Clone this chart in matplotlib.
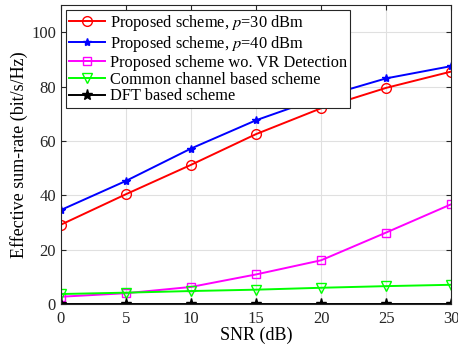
import numpy as np
from matplotlib import pyplot as plt

plt.rcParams['font.family'] = ['Liberation Serif', 'DejaVu Serif']
plt.rcParams['mathtext.fontset'] = 'stix'

snr = [0, 5, 10, 15, 20, 25, 30]
p30 = [29.2, 40.4, 51.2, 62.5, 72.0, 79.5, 85.5]
p40 = [34.6, 45.3, 57.2, 67.6, 76.0, 83.0, 87.5]
no_vr = [2.7, 4.0, 6.3, 10.9, 16.1, 26.3, 36.7]
common = [3.7, 4.2, 4.8, 5.3, 6.0, 6.6, 7.1]
dft = [0, 0, 0, 0, 0, 0, 0]

fig = plt.figure(figsize=(4.58, 3.54), dpi=100)
ax = fig.add_axes([0.133, 0.141, 0.852, 0.845])

ax.plot(snr, p30, color='red', marker='o', markerfacecolor='none', markersize=7,
        linewidth=1.4, label='Proposed scheme, $p$=30 dBm')
ax.plot(snr, p40, color='blue', marker='*', markersize=6,
        linewidth=1.4, label='Proposed scheme, $p$=40 dBm')
ax.plot(snr, no_vr, color='magenta', marker='s', markerfacecolor='none', markersize=5.5,
        linewidth=1.4, label='Proposed scheme wo. VR Detection')
ax.plot(snr, common, color='lime', marker='v', markerfacecolor='none', markersize=7,
        linewidth=1.4, label='Common channel based scheme')
ax.plot(snr, dft, color='black', marker='*', markersize=8,
        linewidth=1.4, label='DFT based scheme')

ax.set_xlim(0, 30)
ax.set_ylim(0, 110)
ax.set_xticks(snr)
ax.set_yticks([0, 20, 40, 60, 80, 100])
ax.grid(True, color='#e0e0e0', linewidth=0.8)
ax.set_axisbelow(True)
ax.tick_params(direction='in', top=True, right=True, labelsize=12, colors='#262626')
ax.tick_params(axis='x', pad=5)
for s in ax.spines.values():
    s.set_color('#262626')
ax.set_xlabel('SNR (dB)', fontsize=13, labelpad=0)
ax.set_ylabel('Effective sum-rate (bit/s/Hz)', fontsize=13, labelpad=2)

leg = ax.legend(loc='upper left', fontsize=11.8, handlelength=2.2, handletextpad=0.3,
                borderpad=0.2, labelspacing=0.05, borderaxespad=0.3, fancybox=False,
                framealpha=1, edgecolor='#262626')
leg.get_frame().set_linewidth(0.8)

plt.savefig('out.png', dpi=100)
